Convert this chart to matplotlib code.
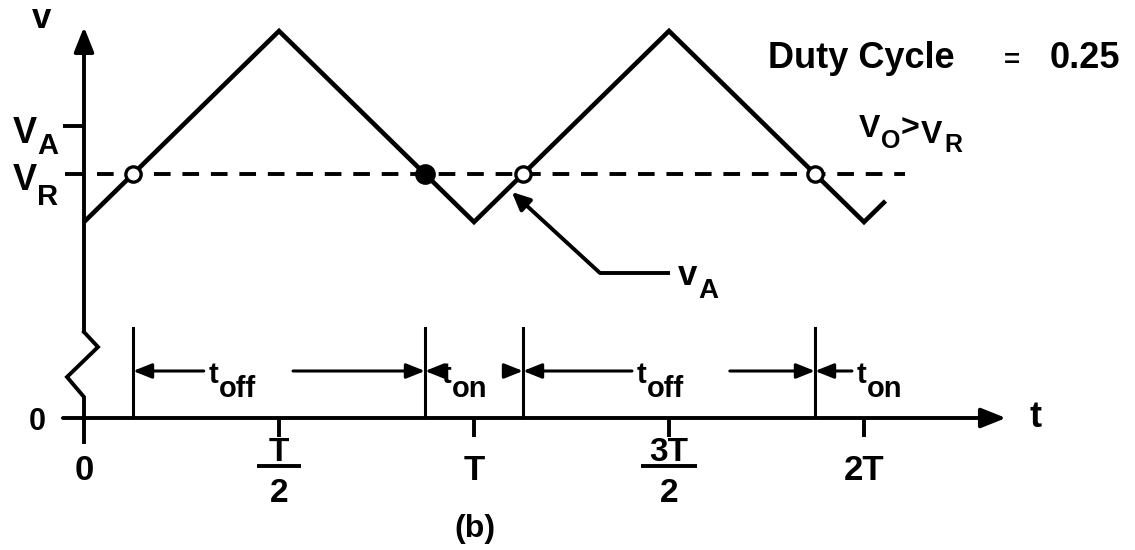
import matplotlib
matplotlib.use('agg')
import matplotlib.pyplot as plt

plt.rcParams['font.family'] = ['Liberation Sans', 'DejaVu Sans']
plt.rcParams['font.weight'] = 'bold'
plt.rcParams['lines.scale_dashes'] = False

# carrier corners, time in periods T
t_wave = [0.0, 0.5, 1.0, 1.5, 2.0, 2.055]
v_wave = [1.96, 3.87, 1.96, 3.87, 1.96, 2.17]
v_ref = 2.44
v_a = 2.92
duty_cycle = 0.25
crossing_filled = [False, True, False, False]
t_ticks = [0.0, 0.5, 1.0, 1.5, 2.0]
t_tick_labels = ['0', 'T/2', 'T', '3T/2', '2T']
interval_names = ['off', 'on', 'off', 'on']

# where the carrier crosses the reference level
t_cross = []
for i in range(len(t_wave) - 1):
    t0, t1 = t_wave[i], t_wave[i + 1]
    v0, v1 = v_wave[i], v_wave[i + 1]
    if (v0 - v_ref) * (v1 - v_ref) < 0:
        t_cross.append(t0 + (v_ref - v0) * (t1 - t0) / (v1 - v0))
t_ends = t_cross[1:] + [t_cross[-2] + 1.0]

K = 'black'
LW_AX = 2.8


def arrow(ax, start, end, hl=0.75, hw=0.3, lw=LW_AX, scale=20):
    ax.annotate('', xy=end, xytext=start,
                arrowprops=dict(arrowstyle='-|>,head_length=%g,head_width=%g' % (hl, hw),
                                color=K, lw=lw, shrinkA=0, shrinkB=0,
                                mutation_scale=scale))


def txt(ax, x, y, s, size, ha='center'):
    ax.text(x, y, s, ha=ha, va='baseline', fontsize=size, color=K)


fig = plt.figure(figsize=(11.35, 5.5), dpi=100)
ax = fig.add_axes([0, 0, 1, 1])
ax.set_xlim(-84 / 390, 1051 / 390)
ax.set_ylim(-1.32, 4.18)
ax.axis('off')

# v axis with the break symbol
ax.plot([0, 0, -0.0436, 0.0359, 0], [-0.24, 0.21, 0.41, 0.71, 0.86],
        color=K, lw=LW_AX, solid_joinstyle='miter')
arrow(ax, (0, 0.86), (0, 3.91))
# t axis
arrow(ax, (-0.054, 0), (2.364, 0))

for tk in t_ticks[1:]:
    ax.plot([tk, tk], [0, -0.19], color=K, lw=LW_AX, solid_capstyle='butt')
ax.plot([-0.054, 0], [v_a, v_a], color=K, lw=LW_AX, solid_capstyle='butt')
ax.plot([-0.049, 0], [v_ref, v_ref], color=K, lw=LW_AX, solid_capstyle='butt')

for tk, lab in zip(t_ticks, t_tick_labels):
    if '/' in lab:
        num, den = lab.split('/')
        half = 0.04 + 0.016 * len(num)
        txt(ax, tk, -0.43, num, 24)
        ax.plot([tk - half, tk + half], [-0.475, -0.475], color=K, lw=LW_AX,
                solid_capstyle='butt')
        txt(ax, tk, -0.84, den, 24)
    else:
        txt(ax, tk, -0.62, lab, 25)

# axis names and level labels
txt(ax, -0.108, 3.90, 'v', 25)
txt(ax, 2.441, -0.09, 't', 26)
txt(ax, -0.121, -0.12, '0', 22)
txt(ax, -0.152, 2.75, 'V', 26)
txt(ax, -0.094, 2.64, 'A', 21)
txt(ax, -0.152, 2.28, 'V', 26)
txt(ax, -0.094, 2.13, 'R', 21)

# carrier and reference level
ax.plot([0.033, 2.105], [v_ref, v_ref], color=K, lw=2.8, dashes=(12, 8.5))
ax.plot(t_wave, v_wave, color=K, lw=3.3, solid_joinstyle='miter',
        solid_capstyle='butt')
for tc, filled in zip(t_cross, crossing_filled):
    ax.plot(tc, v_ref, 'o', ms=12.5 if filled else 11,
            mfc=K if filled else 'white', mec=K, mew=2.4, zorder=5)

# pointer to the carrier
ax.plot([1.503, 1.323], [1.45, 1.45], color=K, lw=LW_AX, solid_capstyle='butt')
arrow(ax, (1.323, 1.45), (1.097, 2.26), hl=0.6, hw=0.28, scale=18)
txt(ax, 1.547, 1.33, 'v', 25)
txt(ax, 1.602, 1.20, 'A', 20)

# on / off intervals
gap_start = [0.307, 0.905, 1.405, 1.969]
gap_end = [0.536, 1.079, 1.656, 2.2]
y_dim = 0.47
for tc in t_cross:
    ax.plot([tc, tc], [0.03, 0.90], color=K, lw=2.2)
for a, b, g0, g1, name in zip(t_cross, t_ends, gap_start, gap_end, interval_names):
    if g0 > a:
        arrow(ax, (g0, y_dim), (a, y_dim), hl=0.7, hw=0.28, lw=2.2, scale=16)
    if g1 < b:
        arrow(ax, (g1, y_dim), (b, y_dim), hl=0.7, hw=0.28, lw=2.2, scale=16)
    txt(ax, g0 + 0.025, 0.35, 't', 21)
    txt(ax, g0 + 0.038, 0.21, name, 21, ha='left')

# annotations on the right
txt(ax, 1.754, 3.50, 'Duty Cycle', 26, ha='left')
txt(ax, 2.380, 3.50, '=', 20)
txt(ax, 2.656, 3.50, '%.2f' % duty_cycle, 26, ha='right')
txt(ax, 2.015, 2.81, 'V', 23)
txt(ax, 2.069, 2.70, 'O', 18)
txt(ax, 2.117, 2.81, '>', 23)
txt(ax, 2.174, 2.75, 'V', 23)
txt(ax, 2.228, 2.66, 'R', 18)

txt(ax, 1.003, -1.19, '(b)', 23)

fig.savefig('out.png', dpi=100, facecolor='white')
